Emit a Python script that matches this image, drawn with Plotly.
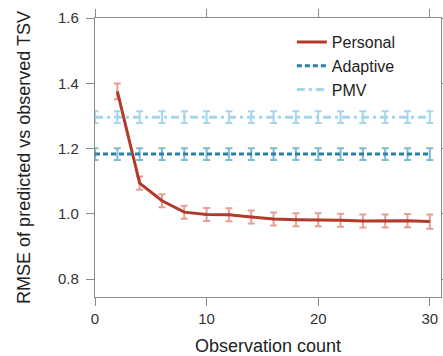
import plotly.graph_objects as go

# ---- data ----
obs_personal = [2, 4, 6, 8, 10, 12, 14, 16, 18, 20, 22, 24, 26, 28, 30]
rmse_personal = [1.375, 1.094, 1.040, 1.005, 0.998, 0.997, 0.990, 0.984, 0.982, 0.982, 0.980, 0.978, 0.978, 0.979, 0.976]
err_personal = [0.024, 0.020, 0.020, 0.020, 0.020, 0.020, 0.020, 0.020, 0.020, 0.020, 0.020, 0.020, 0.020, 0.020, 0.022]

obs_baseline = [0, 2, 4, 6, 8, 10, 12, 14, 16, 18, 20, 22, 24, 26, 28, 30]
rmse_adaptive = [1.183] * 16
err_adaptive = [0.018] * 16
rmse_pmv = [1.296] * 16
err_pmv = [0.018] * 16

x_ticks = [0, 10, 20, 30]
y_ticks = [0.8, 1.0, 1.2, 1.4, 1.6]

fig = go.Figure()

fig.add_trace(go.Scatter(
    x=obs_personal, y=rmse_personal, name="Personal", mode="lines",
    line=dict(color="#B23A2B", width=3),
    error_y=dict(type="data", array=err_personal, color="#E4A097", thickness=2, width=3.5),
))
fig.add_trace(go.Scatter(
    x=obs_baseline, y=rmse_adaptive, name="Adaptive", mode="lines",
    line=dict(color="#2B80A8", width=3, dash="5px,3px"),
    error_y=dict(type="data", array=err_adaptive, color="#7DBBD2", thickness=2, width=3.5),
))
fig.add_trace(go.Scatter(
    x=obs_baseline, y=rmse_pmv, name="PMV", mode="lines",
    line=dict(color="#A6D6EA", width=3, dash="8px,4px,3px,4px"),
    error_y=dict(type="data", array=err_pmv, color="#A6D6EA", thickness=2, width=3.5),
))

axis_common = dict(
    showline=True, linecolor="#8a8a8a", linewidth=1.2, mirror="ticks",
    ticks="outside", ticklen=8, tickcolor="#8a8a8a", tickwidth=1,
    showgrid=False, zeroline=False, automargin=False, ticklabeloverflow="allow",
    tickfont=dict(family="Liberation Sans, Arial", size=15, color="#333333"),
)

fig.update_layout(
    width=443, height=356,
    margin=dict(l=95, r=2, t=18, b=59),
    paper_bgcolor="white", plot_bgcolor="white",
    font=dict(family="Liberation Sans, Arial", color="#222222"),
    xaxis=dict(range=[0, 31], tickvals=x_ticks,
               title=dict(text="Observation count", font=dict(size=18, color="#222222"), standoff=15),
               **axis_common),
    yaxis=dict(range=[0.745, 1.6], tickvals=y_ticks, tickformat=".1f", ticklabelstandoff=4,
               title=dict(text="RMSE of predicted vs observed TSV", font=dict(size=18, color="#222222"), standoff=22),
               **axis_common),
    legend=dict(x=0.569, y=0.975, xanchor="left", yanchor="top",
                bgcolor="rgba(0,0,0,0)", borderwidth=0,
                font=dict(size=16, color="#222222"), tracegroupgap=0),
    showlegend=True,
)

fig.write_html(
    "out.html",
    config={"displayModeBar": False},
    post_script="document.body.style.margin='0';document.body.style.overflow='hidden';",
)
